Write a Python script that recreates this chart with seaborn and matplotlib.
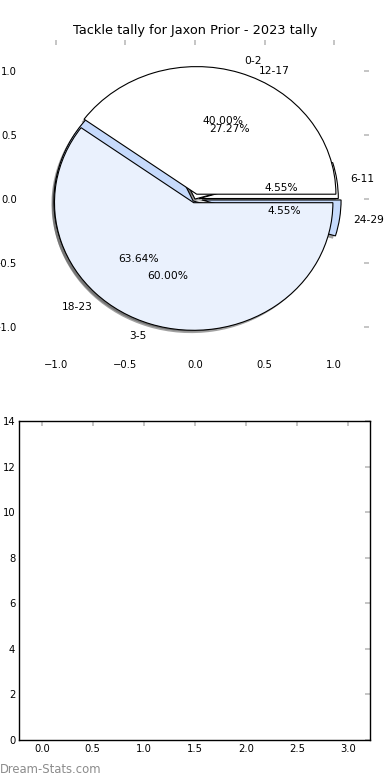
import numpy as np
import seaborn as sns
import matplotlib.pyplot as plt
from matplotlib.patches import Wedge


TITLE = "Tackle tally for Jaxon Prior - 2023 tally"
WATERMARK = "Dream-Stats.com"

# first pie: younger bands
BANDS_A = ["0-2", "3-5"]
COUNTS_A = [2, 3]
COLORS_A = ["#ffffff", "#eaf1fd"]
EXPLODE_A = [0.04, 0.03]

# second pie: older bands (drawn underneath)
BANDS_B = ["6-11", "12-17", "18-23", "24-29"]
COUNTS_B = [1, 6, 14, 1]
COLORS_B = ["#ffffff", "#ffffff", "#c6dafc", "#c6dafc"]
EXPLODE_B = [0.03, 0.0, 0.02, 0.05]

PIE_TICKS = [-1.0, -0.5, 0.0, 0.5, 1.0]
BAR_XTICKS = [0.0, 0.5, 1.0, 1.5, 2.0, 2.5, 3.0]
BAR_YTICKS = [0, 2, 4, 6, 8, 10, 12, 14]

FS = 7.2
PIE_FS = 7.7
TITLE_FS = 9.3
TICK_GREY = "#bbbbbb"


def style_ticks(ax):
    ax.tick_params(axis="both", which="both", direction="in", length=3.5,
                   width=1.2, color=TICK_GREY, labelsize=FS,
                   labelcolor="black", top=True, right=True, pad=3)


def add_shadows(ax, wedges):
    # grey copy of every wedge, nudged down-left, under all wedges
    for w in wedges:
        cx, cy = w.center
        ax.add_patch(Wedge((cx - 0.018, cy - 0.022), w.r, w.theta1, w.theta2,
                           facecolor="#555555", edgecolor="none",
                           alpha=0.55, zorder=0.9))


def main() -> None:
    sns.set_theme(style="white")
    plt.rcParams["font.family"] = ["DejaVu Sans"]
    plt.rcParams["text.color"] = "black"

    fig = plt.figure(figsize=(3.9, 7.8), dpi=100)
    ax_pie = fig.add_axes([0.0538, 0.5403, 0.8923, 0.409])
    ax_bar = fig.add_axes([0.0495, 0.0513, 0.9, 0.409])

    wedge_style = dict(edgecolor="black", linewidth=0.8)

    wedges_b, texts_b, auto_b = ax_pie.pie(
        COUNTS_B, labels=BANDS_B, colors=COLORS_B, explode=EXPLODE_B,
        autopct="%.2f%%", frame=True, wedgeprops=wedge_style,
    )
    wedges_a, texts_a, auto_a = ax_pie.pie(
        COUNTS_A, labels=BANDS_A, colors=COLORS_A, explode=EXPLODE_A,
        autopct="%.2f%%", frame=True, wedgeprops=wedge_style,
    )
    add_shadows(ax_pie, wedges_b + wedges_a)
    for t in texts_a + texts_b + auto_a + auto_b:
        t.set_fontsize(PIE_FS)
        t.set_color("black")

    ax_pie.set_aspect("auto")
    ax_pie.set_xlim(-1.25, 1.25)
    ax_pie.set_ylim(-1.25, 1.25)
    ax_pie.set_xticks(PIE_TICKS)
    ax_pie.set_yticks(PIE_TICKS)
    sns.despine(ax=ax_pie, left=True, bottom=True)
    style_ticks(ax_pie)
    ax_pie.tick_params(axis="x", pad=0.8)
    ax_pie.set_title(TITLE, fontsize=TITLE_FS, pad=4.0, color="black")

    # empty bar panel underneath
    ax_bar.set_xlim(-0.22, 3.22)
    ax_bar.set_ylim(0, 14)
    ax_bar.set_xticks(BAR_XTICKS)
    ax_bar.set_yticks(BAR_YTICKS)
    for side in ax_bar.spines.values():
        side.set_visible(True)
        side.set_color("black")
        side.set_linewidth(1.0)
    style_ticks(ax_bar)

    fig.text(0.0, 0.0137, WATERMARK, color="#8c8c8c", fontsize=8.4,
             va="center", ha="left")

    fig.savefig("out.png", dpi=100)
    plt.close(fig)


if __name__ == "__main__":
    main()
